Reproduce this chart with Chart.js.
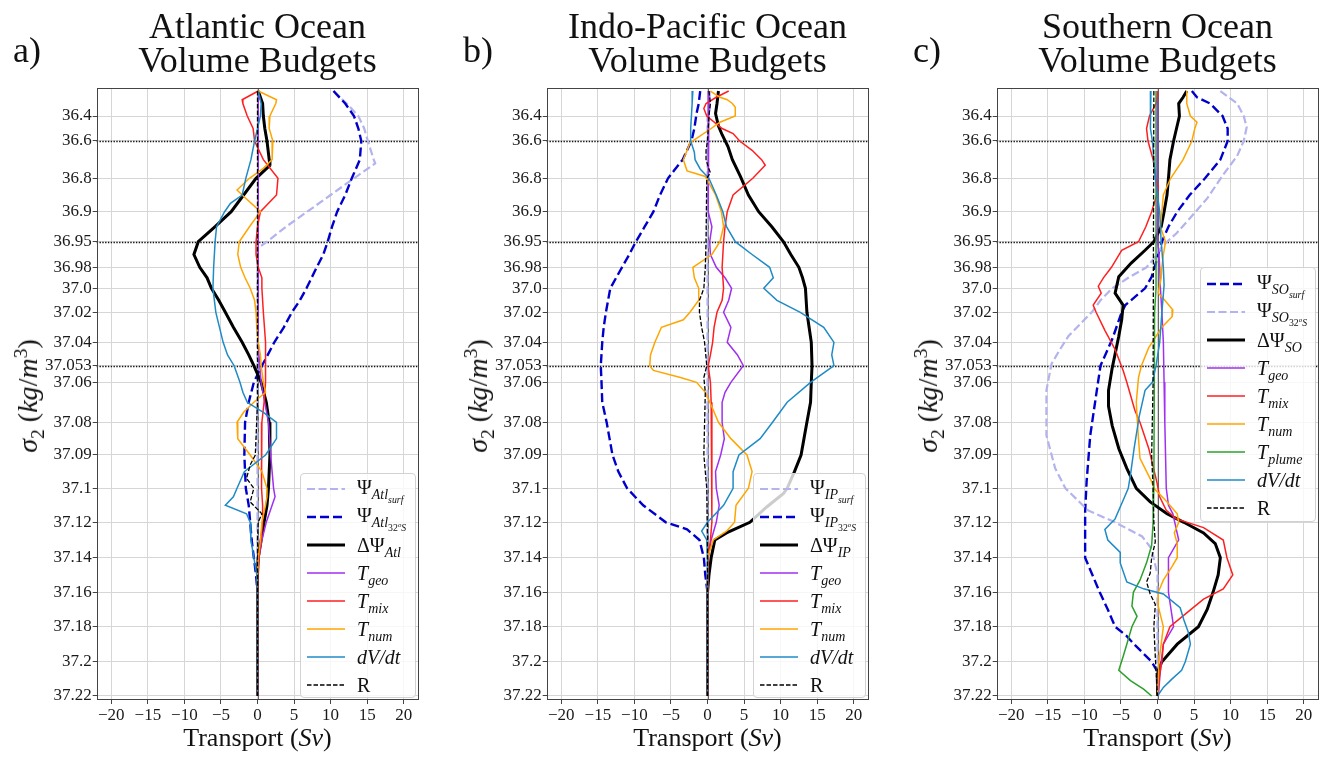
<!DOCTYPE html>
<html><head><meta charset="utf-8">
<script src="https://cdn.jsdelivr.net/npm/chart.js@4.4.0/dist/chart.umd.min.js"></script>
<style>
body{margin:0;background:#fff;width:1325px;height:760px;overflow:hidden;position:relative;font-family:'Liberation Serif',serif;color:#111}
canvas{position:absolute;top:0}
.title{position:absolute;top:8.5px;width:400px;text-align:center;font-size:36px;line-height:34px;white-space:nowrap}
.tag{position:absolute;top:31.5px;font-size:36px;line-height:1}
.xlab{position:absolute;top:725px;width:300px;text-align:center;font-size:26px;line-height:1;white-space:nowrap}
.ylab{position:absolute;font-size:28px;line-height:1;white-space:nowrap;transform:translate(-50%,-50%) rotate(-90deg)}
sub,sup{line-height:0;font-size:0.7em}
.legend{position:absolute;background:rgba(255,255,255,0.8);border:1px solid #d2d2d2;border-radius:4px;box-sizing:border-box}
.row{display:flex;align-items:center;height:28px}
.row svg{margin-left:6px;flex:none}
.row span{margin-left:12px;font-size:20px;line-height:1;white-space:nowrap}
</style>
</head><body>
<canvas id="ca" width="425" height="760" style="left:0px"></canvas>
<canvas id="cb" width="425" height="760" style="left:450px"></canvas>
<canvas id="cc" width="425" height="760" style="left:900px"></canvas>
<script>
// ---------- y axis (density) ticks ----------
const sigmaTicks = [36.4,36.6,36.8,36.9,36.95,36.98,37.0,37.02,37.04,37.053,37.06,37.08,37.09,37.1,37.12,37.14,37.16,37.18,37.2,37.22];
const sigmaTickLabels = ['36.4','36.6','36.8','36.9','36.95','36.98','37.0','37.02','37.04','37.053','37.06','37.08','37.09','37.1','37.12','37.14','37.16','37.18','37.2','37.22'];
// layer index coordinate of each tick (the axis is drawn in layer space)
const tickLayer = [0.906,1.723,2.943,4.035,5.016,5.853,6.539,7.324,8.305,9.070,9.613,10.920,11.989,13.078,14.190,15.347,16.479,17.603,18.748,19.869];
const markerSigmas = [36.6,36.95,37.053];
const xTicks = [-20,-15,-10,-5,0,5,10,15,20];

// ---------- Atlantic ----------
const atlPsiSurf = [[36.2,10.4],[36.3,12.2],[36.4,13.8],[36.5,14.6],[36.6,15.1],[36.7,15.9],[36.72,16.1],[36.8,13.2],[36.85,10.0],[36.9,6.8],[36.925,3.9],[36.95,1.3],[36.958,0],[37.22,0]];
const atlPsi32S = [[36.2,10.4],[36.3,12.0],[36.4,13.2],[36.5,13.8],[36.6,14.2],[36.7,14.0],[36.8,12.9],[36.85,12.0],[36.9,10.9],[36.925,10.2],[36.95,9.6],[36.965,9.0],[36.98,8.1],[36.99,7.4],[37.0,6.7],[37.01,5.8],[37.02,4.7],[37.03,3.6],[37.04,2.3],[37.047,1.4],[37.053,0.6],[37.06,-0.5],[37.07,-1.2],[37.08,-1.7],[37.09,-1.8],[37.1,-1.6],[37.11,-1.2],[37.12,-1.0],[37.13,-0.8],[37.14,-0.5],[37.15,-0.2],[37.16,0],[37.22,0]];
const atlDPsi = [[36.2,0.1],[36.3,0.7],[36.4,0.8],[36.5,1.0],[36.6,1.3],[36.7,1.6],[36.73,1.7],[36.8,-0.2],[36.85,-1.9],[36.9,-3.6],[36.925,-5.8],[36.95,-8.1],[36.965,-8.7],[36.98,-7.9],[36.99,-6.9],[37.0,-6.3],[37.01,-5.3],[37.02,-4.4],[37.03,-3.3],[37.04,-2.1],[37.047,-1.2],[37.053,-0.5],[37.06,0.5],[37.07,1.2],[37.08,1.6],[37.09,1.7],[37.1,1.5],[37.11,1.3],[37.12,0.9],[37.13,0.5],[37.14,0.1],[37.15,0],[37.22,0]];
const atlTgeo = [[36.2,0.1],[37.04,0.1],[37.053,0.3],[37.06,0.5],[37.07,1.0],[37.08,1.5],[37.09,1.8],[37.1,2.2],[37.105,2.4],[37.11,2.0],[37.12,1.2],[37.13,0.6],[37.14,0.2],[37.15,0],[37.22,0]];
const atlTmix = [[36.2,0.1],[36.27,-2.1],[36.3,-2.0],[36.4,-1.4],[36.5,-0.6],[36.6,-0.4],[36.7,0.8],[36.8,2.8],[36.85,2.6],[36.9,0.4],[36.925,0],[36.95,-0.2],[36.965,-0.2],[36.98,0.1],[36.99,0.6],[37.0,0.6],[37.02,0.8],[37.04,1.1],[37.06,1.1],[37.07,0.9],[37.08,0.6],[37.09,0.5],[37.1,0.6],[37.11,0.7],[37.12,0.7],[37.13,0.5],[37.14,0.2],[37.15,0],[37.22,0]];
const atlTnum = [[36.2,0.1],[36.27,2.6],[36.3,2.5],[36.4,1.7],[36.5,1.6],[36.6,2.1],[36.7,2.0],[36.75,0.7],[36.8,-1.1],[36.835,-2.8],[36.85,-2.1],[36.9,0.4],[36.925,-1.1],[36.95,-2.5],[36.965,-2.7],[36.98,-2.3],[36.99,-1.7],[37.0,-1.0],[37.01,-0.4],[37.02,-0.2],[37.03,-0.1],[37.04,0.1],[37.047,0.4],[37.053,0.5],[37.06,0.8],[37.065,1.1],[37.07,-0.5],[37.075,-1.9],[37.08,-2.8],[37.085,-2.7],[37.09,-1.0],[37.095,0.6],[37.1,1.3],[37.105,1.3],[37.11,1.1],[37.12,0.6],[37.13,0.4],[37.14,0.1],[37.15,0],[37.22,0]];
const atlDVdt = [[36.2,0.1],[36.3,0.5],[36.4,0.4],[36.5,0],[36.6,-0.4],[36.7,-0.9],[36.8,-1.6],[36.85,-2.1],[36.875,-3.7],[36.9,-4.5],[36.925,-5.6],[36.95,-5.8],[36.98,-6.0],[37.0,-6.1],[37.01,-5.9],[37.02,-5.7],[37.03,-5.2],[37.04,-4.7],[37.047,-4.1],[37.053,-3.2],[37.06,-2.4],[37.065,-2.0],[37.07,-1.4],[37.075,0.8],[37.08,2.6],[37.085,2.6],[37.09,1.1],[37.095,-1.8],[37.1,-2.8],[37.105,-3.3],[37.11,-4.4],[37.115,-1.5],[37.12,-1.0],[37.13,-0.9],[37.14,-0.5],[37.15,-0.1],[37.16,0],[37.22,0]];
const atlR = [[36.2,0],[37.07,0],[37.09,-0.3],[37.093,-1.0],[37.097,-1.5],[37.1,-0.5],[37.108,-1.0],[37.115,0.6],[37.12,0.1],[37.13,0],[37.22,0]];

// ---------- Indo-Pacific ----------
const ipPsiSurf = [[36.2,0.3],[36.35,0.3],[36.4,0],[37.22,0]];
const ipPsi32S = [[36.2,-1.0],[36.3,-1.2],[36.38,-1.5],[36.5,-1.8],[36.6,-2.2],[36.7,-3.4],[36.76,-4.6],[36.8,-5.4],[36.85,-6.5],[36.9,-7.4],[36.925,-8.6],[36.95,-9.8],[36.965,-10.7],[36.98,-11.7],[36.99,-12.5],[37.0,-13.3],[37.01,-13.6],[37.02,-13.9],[37.03,-14.2],[37.04,-14.4],[37.053,-14.6],[37.06,-14.5],[37.07,-14.4],[37.08,-13.8],[37.085,-13.4],[37.09,-13.0],[37.095,-12.2],[37.1,-11.0],[37.11,-8.8],[37.12,-5.7],[37.124,-2.8],[37.13,-1.1],[37.14,-0.5],[37.15,-0.3],[37.16,0],[37.22,0]];
const ipDPsi = [[36.2,1.5],[36.3,1.3],[36.38,1.1],[36.48,1.5],[36.55,2.0],[36.63,2.8],[36.7,3.4],[36.79,4.5],[36.85,5.6],[36.9,7.0],[36.925,8.8],[36.95,10.4],[36.965,11.4],[36.98,12.5],[36.99,13.0],[37.0,13.4],[37.02,13.6],[37.03,13.9],[37.04,14.2],[37.053,14.3],[37.06,14.2],[37.07,14.1],[37.08,13.6],[37.085,13.2],[37.09,12.8],[37.095,11.9],[37.1,10.9],[37.103,10.4],[37.111,8.1],[37.12,5.8],[37.126,2.6],[37.13,1.0],[37.14,0.5],[37.15,0.2],[37.16,0],[37.22,0]];
const ipTgeo = [[36.2,0.2],[36.9,0.1],[36.925,0.6],[36.95,0.3],[36.965,0.4],[36.98,1.2],[36.99,2.4],[37.0,3.3],[37.01,2.9],[37.02,2.2],[37.03,3.2],[37.04,2.7],[37.047,4.1],[37.053,4.9],[37.06,3.2],[37.065,2.4],[37.07,2.0],[37.08,2.0],[37.085,2.3],[37.09,1.8],[37.095,1.1],[37.1,1.2],[37.11,1.6],[37.12,1.2],[37.13,0.5],[37.14,0.1],[37.15,0],[37.22,0]];
const ipTmix = [[36.2,2.9],[36.25,1.2],[36.3,-0.2],[36.34,-0.5],[36.4,-0.1],[36.5,2.0],[36.54,3.5],[36.6,4.4],[36.65,6.1],[36.7,7.4],[36.73,7.9],[36.8,6.2],[36.85,3.5],[36.9,2.7],[36.925,2.4],[36.95,2.2],[36.98,2.0],[37.0,2.2],[37.01,2.0],[37.02,1.3],[37.03,0.9],[37.04,0.7],[37.047,0.4],[37.053,0.1],[37.06,0.4],[37.07,0.5],[37.08,0.6],[37.12,0.6],[37.13,0.4],[37.14,0.1],[37.15,0],[37.22,0]];
const ipTnum = [[36.2,0.4],[36.25,1.7],[36.27,2.7],[36.3,3.4],[36.33,3.8],[36.4,3.8],[36.45,1.7],[36.5,0.5],[36.61,-2.4],[36.7,-3.3],[36.76,-2.8],[36.79,-0.3],[36.85,1.1],[36.9,1.9],[36.925,2.2],[36.95,1.7],[36.965,0.6],[36.98,-2.0],[36.99,-1.8],[37.0,-1.2],[37.01,-1.2],[37.02,-2.4],[37.025,-3.3],[37.03,-6.3],[37.04,-7.2],[37.047,-7.8],[37.053,-7.9],[37.055,-7.4],[37.058,-3.7],[37.06,-1.5],[37.065,-0.3],[37.074,0.8],[37.08,1.5],[37.085,3.2],[37.09,5.4],[37.095,6.1],[37.1,5.6],[37.11,3.9],[37.12,3.7],[37.125,2.6],[37.13,0.8],[37.14,0],[37.22,0]];
const ipDVdt = [[36.2,-2.0],[36.3,-2.1],[36.4,-2.2],[36.5,-2.3],[36.6,-2.3],[36.66,-1.8],[36.7,-1.7],[36.75,-1.0],[36.8,0.2],[36.85,1.2],[36.9,2.1],[36.925,2.6],[36.95,3.8],[36.965,6.1],[36.98,8.5],[36.99,9.0],[37.0,7.7],[37.01,9.5],[37.02,12.7],[37.03,15.9],[37.04,17.3],[37.047,17.0],[37.053,17.3],[37.06,14.1],[37.07,10.9],[37.08,8.9],[37.085,7.2],[37.09,4.3],[37.095,3.5],[37.1,3.5],[37.11,2.2],[37.12,0],[37.125,-0.8],[37.13,-0.1],[37.14,0],[37.22,0]];
const ipR = [[36.2,0.2],[36.3,0.4],[36.4,0.2],[36.6,0],[36.65,-0.2],[36.7,-0.2],[36.75,0.2],[36.77,0.4],[36.8,-0.1],[36.95,-0.2],[36.98,-0.3],[37.0,-0.5],[37.01,-1.1],[37.02,-1.1],[37.03,-0.8],[37.04,-0.4],[37.053,-0.1],[37.058,-0.5],[37.065,-0.3],[37.09,-0.5],[37.1,-0.1],[37.13,0],[37.22,0]];

// ---------- Southern Ocean ----------
const soPsiSurf = [[36.2,4.7],[36.25,5.4],[36.3,7.2],[36.4,8.9],[36.5,9.6],[36.6,9.6],[36.7,8.6],[36.8,6.5],[36.85,4.4],[36.9,2.7],[36.925,1.5],[36.95,0.6],[36.965,0.1],[36.98,-0.4],[36.989,-0.8],[37.0,-1.7],[37.014,-4.4],[37.02,-4.9],[37.038,-6.2],[37.053,-7.8],[37.069,-8.5],[37.084,-9.2],[37.098,-9.7],[37.114,-9.9],[37.14,-9.9],[37.15,-8.9],[37.16,-7.9],[37.17,-6.8],[37.18,-5.8],[37.185,-4.3],[37.19,-3.2],[37.2,-0.8],[37.205,-0.1],[37.22,0]];
const soPsi32S = [[36.2,8.6],[36.3,10.9],[36.4,11.8],[36.49,12.2],[36.6,11.8],[36.68,10.9],[36.78,9.0],[36.86,6.8],[36.91,4.5],[36.936,2.6],[36.95,1.3],[36.958,0.4],[36.97,-0.5],[36.98,-1.5],[36.99,-4.0],[37.0,-6.2],[37.01,-7.8],[37.02,-9.0],[37.03,-11.0],[37.036,-12.2],[37.045,-13.5],[37.052,-14.5],[37.064,-15.2],[37.084,-15.2],[37.094,-14.0],[37.1,-12.6],[37.113,-9.5],[37.12,-5.8],[37.128,-2.1],[37.135,-0.8],[37.15,0],[37.22,0]];
const soDPsi = [[36.2,4.0],[36.25,3.5],[36.3,2.9],[36.4,3.0],[36.5,2.6],[36.6,2.2],[36.7,1.7],[36.8,1.5],[36.85,1.3],[36.9,0.9],[36.925,0.5],[36.95,-0.5],[36.96,-1.7],[36.975,-3.6],[36.989,-5.3],[37.004,-5.8],[37.014,-4.7],[37.025,-4.9],[37.036,-5.3],[37.054,-6.2],[37.064,-6.7],[37.072,-6.7],[37.081,-6.2],[37.088,-5.3],[37.094,-4.2],[37.1,-2.9],[37.108,-1.0],[37.115,1.3],[37.12,3.6],[37.126,6.3],[37.132,7.9],[37.14,8.6],[37.15,8.3],[37.16,7.6],[37.17,6.8],[37.18,5.6],[37.19,2.7],[37.2,0.6],[37.205,0.1],[37.22,0]];
const soTgeo = [[36.2,0],[36.95,0],[36.965,0.2],[36.98,0.3],[37.0,0.4],[37.02,0.6],[37.04,0.8],[37.06,0.9],[37.08,1.0],[37.1,1.2],[37.11,1.5],[37.115,2.1],[37.13,2.9],[37.14,1.5],[37.16,1.5],[37.18,2.2],[37.19,0.8],[37.2,0.5],[37.21,0.3],[37.22,0.1]];
const soTmix = [[36.2,0.1],[36.3,-0.2],[36.4,-1.1],[36.5,-1.5],[36.6,-1.3],[36.7,-0.6],[36.8,-0.2],[36.825,0.1],[36.85,-0.1],[36.9,-0.8],[36.925,-1.6],[36.95,-2.6],[36.96,-4.9],[36.98,-6.3],[36.99,-7.4],[36.998,-8.1],[37.004,-7.7],[37.014,-8.8],[37.02,-8.4],[37.032,-7.2],[37.044,-5.8],[37.055,-4.7],[37.06,-4.2],[37.074,-3.1],[37.08,-2.4],[37.088,-1.2],[37.098,-0.1],[37.105,0.3],[37.113,1.2],[37.118,2.6],[37.123,6.3],[37.13,9.0],[37.14,9.5],[37.15,10.3],[37.158,9.0],[37.164,6.3],[37.172,4.0],[37.18,1.7],[37.19,0.8],[37.2,0.6],[37.21,0.2],[37.22,0]];
const soTnum = [[36.2,4.0],[36.3,4.0],[36.4,4.5],[36.45,5.4],[36.5,5.1],[36.6,4.7],[36.7,3.5],[36.8,1.8],[36.85,0.8],[36.9,0.6],[36.925,0.4],[36.95,1.1],[36.965,0.8],[36.98,0.6],[36.99,0.5],[37.004,0.1],[37.01,1.0],[37.018,2.1],[37.023,2.0],[37.03,0.6],[37.043,-1.2],[37.053,-2.2],[37.058,-2.6],[37.07,-2.9],[37.077,-2.8],[37.085,-2.6],[37.091,-2.4],[37.098,-0.8],[37.1,-0.5],[37.107,1.1],[37.115,2.7],[37.12,2.9],[37.126,2.3],[37.132,2.7],[37.14,2.7],[37.145,2.0],[37.153,0.8],[37.16,0.1],[37.168,0.1],[37.18,0.8],[37.19,0.5],[37.2,0.2],[37.22,0]];
const soTplume = [[36.2,-0.2],[37.0,-0.2],[37.02,-0.4],[37.1,-0.5],[37.12,-0.6],[37.133,-0.8],[37.143,-1.5],[37.153,-2.4],[37.16,-3.3],[37.168,-3.5],[37.174,-2.8],[37.18,-3.5],[37.19,-4.2],[37.197,-4.7],[37.205,-5.3],[37.211,-3.7],[37.216,-1.9],[37.22,-0.8]];
const soDVdt = [[36.2,-0.9],[36.3,-1.0],[36.4,-1.0],[36.5,-0.9],[36.6,-0.7],[36.7,-0.5],[36.8,-0.3],[36.85,0],[36.9,0.3],[36.95,0.5],[36.98,0.8],[36.997,0.9],[37.02,0.6],[37.04,0.3],[37.053,-0.2],[37.06,-0.7],[37.064,-1.7],[37.077,-2.5],[37.088,-3.2],[37.096,-3.7],[37.1,-4.0],[37.107,-4.7],[37.118,-5.8],[37.124,-7.2],[37.13,-6.8],[37.137,-5.1],[37.143,-5.1],[37.154,-4.2],[37.158,-1.9],[37.161,0.8],[37.169,3.1],[37.176,3.6],[37.183,4.2],[37.19,4.5],[37.2,3.8],[37.205,3.3],[37.21,2.0],[37.215,0.8],[37.22,0]];
const soR = [[36.2,-0.5],[37.06,-0.6],[37.09,-0.8],[37.1,-0.6],[37.12,-0.5],[37.131,-0.3],[37.14,-0.8],[37.149,-1.0],[37.154,-1.5],[37.161,-1.0],[37.167,-0.3],[37.18,-0.5],[37.197,-0.3],[37.22,0]];

// ---------- styles ----------
const styles = {
  lav:   {color:'#b3b3ee', width:2.2, dash:[8,3.5]},
  blue:  {color:'#0000cd', width:2.4, dash:[9,4]},
  black: {color:'#000000', width:3},
  geo:   {color:'#a02ff0', width:1.5},
  mix:   {color:'#ff1f1f', width:1.5},
  num:   {color:'#ffa500', width:1.5},
  plume: {color:'#2ca02c', width:1.5},
  dvdt:  {color:'#1f8bc6', width:1.5},
  r:     {color:'#000000', width:1.3, dash:[4.5,2]}
};

const panels = [
  {id:'ca', x:0, tag:'a)', title:['Atlantic Ocean','Volume Budgets'],
   legend:{left:300, top:473, width:116, height:225, pad:0.5},
   series:[
    {label:'Ψ<sub><i>Atl</i><sub><i>surf</i></sub></sub>', data:atlPsiSurf, style:'lav'},
    {label:'Ψ<sub><i>Atl</i><sub>32<sup><i>o</i></sup><i>S</i></sub></sub>', data:atlPsi32S, style:'blue'},
    {label:'ΔΨ<sub><i>Atl</i></sub>', data:atlDPsi, style:'black'},
    {label:'<i>T<sub>geo</sub></i>', data:atlTgeo, style:'geo'},
    {label:'<i>T<sub>mix</sub></i>', data:atlTmix, style:'mix'},
    {label:'<i>T<sub>num</sub></i>', data:atlTnum, style:'num'},
    {label:'<i>dV/dt</i>', data:atlDVdt, style:'dvdt'},
    {label:'R', data:atlR, style:'r'}
   ]},
  {id:'cb', x:450, tag:'b)', title:['Indo-Pacific Ocean','Volume Budgets'],
   legend:{left:303, top:473, width:113, height:225, pad:0.5},
   series:[
    {label:'Ψ<sub><i>IP</i><sub><i>surf</i></sub></sub>', data:ipPsiSurf, style:'lav'},
    {label:'Ψ<sub><i>IP</i><sub>32<sup><i>o</i></sup><i>S</i></sub></sub>', data:ipPsi32S, style:'blue'},
    {label:'ΔΨ<sub><i>IP</i></sub>', data:ipDPsi, style:'black'},
    {label:'<i>T<sub>geo</sub></i>', data:ipTgeo, style:'geo'},
    {label:'<i>T<sub>mix</sub></i>', data:ipTmix, style:'mix'},
    {label:'<i>T<sub>num</sub></i>', data:ipTnum, style:'num'},
    {label:'<i>dV/dt</i>', data:ipDVdt, style:'dvdt'},
    {label:'R', data:ipR, style:'r'}
   ]},
  {id:'cc', x:900, tag:'c)', title:['Southern Ocean','Volume Budgets'],
   legend:{left:300, top:267, width:116, height:255, pad:1.5},
   series:[
    {label:'Ψ<sub><i>SO</i><sub><i>surf</i></sub></sub>', data:soPsiSurf, style:'blue'},
    {label:'Ψ<sub><i>SO</i><sub>32<sup><i>o</i></sup><i>S</i></sub></sub>', data:soPsi32S, style:'lav'},
    {label:'ΔΨ<sub><i>SO</i></sub>', data:soDPsi, style:'black'},
    {label:'<i>T<sub>geo</sub></i>', data:soTgeo, style:'geo'},
    {label:'<i>T<sub>mix</sub></i>', data:soTmix, style:'mix'},
    {label:'<i>T<sub>num</sub></i>', data:soTnum, style:'num'},
    {label:'<i>T<sub>plume</sub></i>', data:soTplume, style:'plume'},
    {label:'<i>dV/dt</i>', data:soDVdt, style:'dvdt'},
    {label:'R', data:soR, style:'r'}
   ]}
];

function layerOf(s){
  const n = sigmaTicks.length;
  let i = 0;
  if (s <= sigmaTicks[0]) i = 0;
  else if (s >= sigmaTicks[n-1]) i = n-2;
  else { while (i < n-2 && s > sigmaTicks[i+1]) i++; }
  const t = (s - sigmaTicks[i])/(sigmaTicks[i+1]-sigmaTicks[i]);
  return tickLayer[i] + t*(tickLayer[i+1]-tickLayer[i]);
}

const FONT = "'Liberation Serif', serif";
const refPlugin = {
  id:'refs',
  beforeDatasetsDraw(chart){
    const {ctx, chartArea:a, scales:{x,y}} = chart;
    ctx.save();
    ctx.strokeStyle = '#666'; ctx.lineWidth = 1;
    const x0 = Math.round(x.getPixelForValue(0)) + 0.5;
    ctx.beginPath(); ctx.moveTo(x0, a.top); ctx.lineTo(x0, a.bottom); ctx.stroke();
    ctx.strokeStyle = '#111'; ctx.lineWidth = 1.3; ctx.setLineDash([1.4,1.4]);
    markerSigmas.forEach(s => {
      const py = Math.round(y.getPixelForValue(layerOf(s))) + 0.5;
      ctx.beginPath(); ctx.moveTo(a.left, py); ctx.lineTo(a.right, py); ctx.stroke();
    });
    ctx.restore();
  },
  afterDraw(chart){
    const {ctx, chartArea:a} = chart;
    ctx.save();
    ctx.strokeStyle = '#444'; ctx.lineWidth = 1;
    ctx.strokeRect(Math.round(a.left)+0.5, Math.round(a.top)+0.5, Math.round(a.right-a.left)-1, Math.round(a.bottom-a.top)-1);
    ctx.restore();
  }
};

panels.forEach(p => {
  const n = p.series.length;
  new Chart(document.getElementById(p.id), {
    type:'scatter',
    data:{ datasets: p.series.map((s,i) => {
      const st = styles[s.style];
      return {
        label: s.label,
        data: s.data.map(([sig,v]) => ({x:v, y:layerOf(sig)})),
        showLine:true, borderColor:st.color, backgroundColor:st.color,
        borderWidth:st.width, borderDash:st.dash || [], pointRadius:0, pointHoverRadius:0,
        tension:0, fill:false, order: n - i
      };
    })},
    options:{
      responsive:false, animation:false, devicePixelRatio:1,
      layout:{padding:{left:0, top:88.3, right:6.7, bottom:0}},
      plugins:{legend:{display:false}, tooltip:{enabled:false}, title:{display:false}},
      events:[],
      scales:{
        x:{type:'linear', min:-22, max:22,
           afterBuildTicks: sc => { sc.ticks = xTicks.map(v => ({value:v})); },
           afterFit: sc => { sc.height = 60; },
           ticks:{callback: v => v < 0 ? '\u2212' + Math.abs(v) : String(v), font:{family:FONT, size:17}, color:'#1a1a1a', padding:1, maxRotation:0, autoSkip:false},
           grid:{color:'#d6d6d6', lineWidth:1, tickColor:'#444', tickLength:4},
           border:{display:false}},
        y:{type:'linear', reverse:true, min:0, max:20,
           afterBuildTicks: sc => { sc.ticks = sigmaTicks.map(s => ({value:layerOf(s)})); },
           afterFit: sc => { sc.width = 96.7; },
           ticks:{callback:(v,i) => sigmaTickLabels[i], font:{family:FONT, size:17}, color:'#1a1a1a', padding:1, autoSkip:false},
           grid:{color:'#d6d6d6', lineWidth:1, tickColor:'#444', tickLength:4},
           border:{display:false}}
      }
    },
    plugins:[refPlugin]
  });

  // HTML text: titles, tag, axis labels, legend
  const add = (cls, html, style) => { const d = document.createElement('div'); d.className = cls; d.innerHTML = html; Object.assign(d.style, style); document.body.appendChild(d); return d; };
  const cx = p.x + 257.5;
  add('title', p.title.join('<br>'), {left:(cx-200)+'px'});
  add('tag', p.tag, {left:(p.x+13)+'px'});
  add('xlab', 'Transport (<i>Sv</i>)', {left:(cx-150)+'px'});
  add('ylab', '<i>σ</i><sub>2</sub> (<i>kg</i>/<i>m</i><sup>3</sup>)', {left:(p.x+28)+'px', top:'396px'});
  const lg = add('legend', '', {left:(p.x+p.legend.left)+'px', top:p.legend.top+'px', width:p.legend.width+'px', height:p.legend.height+'px', paddingTop:p.legend.pad+'px'});
  p.series.forEach(s => {
    const st = styles[s.style];
    const row = document.createElement('div'); row.className = 'row';
    const dash = st.dash ? ` stroke-dasharray="${st.dash.join(' ')}"` : '';
    row.innerHTML = `<svg width="38" height="10"><line x1="0" y1="5" x2="38" y2="5" stroke="${st.color}" stroke-width="${st.width}"${dash}/></svg><span>${s.label}</span>`;
    lg.appendChild(row);
  });
});
</script>
</body></html>
